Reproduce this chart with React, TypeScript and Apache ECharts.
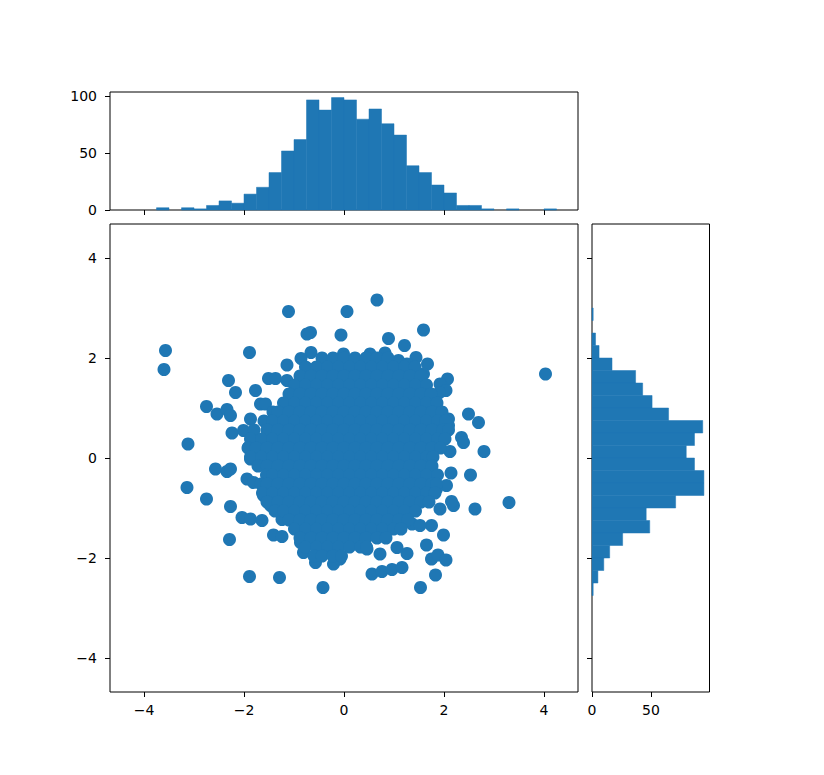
import React, { useEffect, useRef } from "react";
import * as echarts from "echarts";

const BLUE = "#1f77b4";
const FONT = "DejaVu Sans";

const mainTicks = [-4, -2, 0, 2, 4];
const topHistTicks = [0, 50, 100];
const rightHistTicks = [0, 50];

const binWidth = 0.25;
const topBinStarts = [
  -4.25, -4.0, -3.75, -3.5, -3.25, -3.0, -2.75, -2.5, -2.25, -2.0, -1.75, -1.5,
  -1.25, -1.0, -0.75, -0.5, -0.25, 0.0, 0.25, 0.5, 0.75, 1.0, 1.25, 1.5, 1.75,
  2.0, 2.25, 2.5, 2.75, 3.0, 3.25, 3.5, 3.75, 4.0, 4.25,
];
const topCounts = [
  0, 0, 2, 0, 2, 1, 4, 8, 6, 14, 20, 33, 52, 62, 97, 88, 99, 97, 80, 89, 76, 66,
  39, 33, 22, 15, 4, 4, 1, 0, 1, 0, 0, 1, 0,
];
const rightBinStarts = [
  2.75, 2.5, 2.25, 2.0, 1.75, 1.5, 1.25, 1.0, 0.75, 0.5, 0.25, 0.0, -0.25, -0.5,
  -0.75, -1.0, -1.25, -1.5, -1.75, -2.0, -2.25, -2.5, -2.75,
];
const rightCounts = [
  1, 0, 3, 6, 17, 37, 43, 51, 65, 94, 87, 80, 87, 95, 95, 71, 46, 49, 26, 15, 10,
  5, 1,
];

// scattered points read around the edge of the cloud
const outerPoints: number[][] = [
  [-1.11, 2.93], [0.06, 2.93], [0.66, 3.16], [-0.67, 2.51], [-0.74, 2.48],
  [-0.06, 2.46], [1.59, 2.56], [0.89, 2.39], [1.21, 2.25], [-3.57, 2.15],
  [-3.6, 1.77], [-1.89, 2.11], [-0.66, 2.11], [-0.01, 2.08], [0.52, 2.08],
  [0.82, 2.1], [-0.86, 1.99], [-1.14, 1.86], [-0.41, 1.95], [-0.71, 1.78],
  [1.44, 2.01], [1.67, 1.88], [1.59, 1.68], [1.09, 1.95], [1.26, 1.88],
  [0.72, 1.71], [4.03, 1.68], [-2.31, 1.55], [-2.17, 1.31], [-1.77, 1.35],
  [-1.51, 1.59], [-1.37, 1.59], [-1.14, 1.55], [-1.67, 1.08], [-1.57, 1.08],
  [-2.75, 1.03], [-2.54, 0.88], [-2.34, 0.97], [-2.27, 0.85], [-1.87, 0.78],
  [-2.24, 0.5], [-2.01, 0.55], [-3.12, 0.28], [-1.91, 0.21], [2.07, 1.58],
  [1.92, 1.48], [2.04, 1.35], [1.91, 1.31], [1.49, 1.46], [1.62, 1.21],
  [1.59, 1.08], [2.49, 0.88], [2.69, 0.71], [1.85, 0.85], [2.09, 0.78],
  [2.09, 0.65], [2.35, 0.41], [2.39, 0.31], [2.8, 0.13], [2.12, 0.13],
  [-2.57, -0.22], [-2.34, -0.27], [-2.27, -0.22], [-3.14, -0.59], [-2.75, -0.82],
  [-2.27, -0.97], [-1.94, -0.42], [-1.81, -0.49], [-2.04, -1.19], [-1.87, -1.22],
  [-1.64, -1.25], [-2.29, -1.63], [-1.41, -1.54], [-1.24, -1.57], [-1.24, -1.23],
  [-1.89, -2.37], [-1.29, -2.39], [-0.42, -2.59], [-0.81, -1.89], [-0.57, -2.09],
  [-0.21, -2.12], [-0.87, -1.69], [-1.61, -0.75], [-1.47, -0.95], [-1.87, -0.02],
  [2.14, -0.3], [2.53, -0.34], [3.3, -0.89], [2.62, -1.02], [2.19, -0.95],
  [2.15, -0.87], [2.05, -0.55], [1.85, -0.62], [1.92, -1.02], [1.99, -1.54],
  [1.75, -1.35], [1.65, -1.74], [1.26, -1.91], [1.75, -2.02], [1.88, -1.94],
  [2.04, -2.04], [1.83, -2.34], [1.53, -2.59], [0.56, -2.32], [0.76, -2.27],
  [0.96, -2.23], [1.16, -2.19], [0.72, -1.92], [1.06, -1.79], [-0.08, -2.02],
  [0.46, -1.82], [1.36, -1.32], [1.52, -1.35],
];

// dense core of the cloud, row by row: [y, x values]
const blobRows: [number, number[]][] = [
  [2.0, [-0.44, -0.22, 0, 0.22, 0.44, 0.66, 0.88]],
  [1.82, [-0.77, -0.55, -0.33, -0.11, 0.11, 0.33, 0.55, 0.77, 0.99, 1.21, 1.42]],
  [1.64, [-0.88, -0.66, -0.44, -0.22, 0, 0.22, 0.44, 0.66, 0.88, 1.1, 1.32, 1.54]],
  [1.46, [-0.99, -0.77, -0.55, -0.33, -0.11, 0.11, 0.33, 0.55, 0.77, 0.99, 1.21, 1.43, 1.65]],
  [1.28, [-1.1, -0.88, -0.66, -0.44, -0.22, 0, 0.22, 0.44, 0.66, 0.88, 1.1, 1.32, 1.54, 1.74]],
  [1.1, [-1.21, -0.99, -0.77, -0.55, -0.33, -0.11, 0.11, 0.33, 0.55, 0.77, 0.99, 1.21, 1.43, 1.65, 1.86]],
  [0.92, [-1.42, -1.32, -1.1, -0.88, -0.66, -0.44, -0.22, 0, 0.22, 0.44, 0.66, 0.88, 1.1, 1.32, 1.54, 1.76, 1.96]],
  [0.74, [-1.6, -1.43, -1.21, -0.99, -0.77, -0.55, -0.33, -0.11, 0.11, 0.33, 0.55, 0.77, 0.99, 1.21, 1.43, 1.65, 1.87, 2.03]],
  [0.56, [-1.8, -1.54, -1.32, -1.1, -0.88, -0.66, -0.44, -0.22, 0, 0.22, 0.44, 0.66, 0.88, 1.1, 1.32, 1.54, 1.76, 1.98, 2.09]],
  [0.38, [-1.87, -1.65, -1.43, -1.21, -0.99, -0.77, -0.55, -0.33, -0.11, 0.11, 0.33, 0.55, 0.77, 0.99, 1.21, 1.43, 1.65, 1.87, 2.02]],
  [0.2, [-1.92, -1.76, -1.54, -1.32, -1.1, -0.88, -0.66, -0.44, -0.22, 0, 0.22, 0.44, 0.66, 0.88, 1.1, 1.32, 1.54, 1.76, 1.93]],
  [0.02, [-1.87, -1.65, -1.43, -1.21, -0.99, -0.77, -0.55, -0.33, -0.11, 0.11, 0.33, 0.55, 0.77, 0.99, 1.21, 1.43, 1.65, 1.78]],
  [-0.16, [-1.72, -1.54, -1.32, -1.1, -0.88, -0.66, -0.44, -0.22, 0, 0.22, 0.44, 0.66, 0.88, 1.1, 1.32, 1.54, 1.76]],
  [-0.34, [-1.55, -1.43, -1.21, -0.99, -0.77, -0.55, -0.33, -0.11, 0.11, 0.33, 0.55, 0.77, 0.99, 1.21, 1.43, 1.65, 1.87]],
  [-0.52, [-1.66, -1.54, -1.32, -1.1, -0.88, -0.66, -0.44, -0.22, 0, 0.22, 0.44, 0.66, 0.88, 1.1, 1.32, 1.54, 1.76, 1.85]],
  [-0.7, [-1.63, -1.43, -1.21, -0.99, -0.77, -0.55, -0.33, -0.11, 0.11, 0.33, 0.55, 0.77, 0.99, 1.21, 1.43, 1.65, 1.82]],
  [-0.88, [-1.54, -1.32, -1.1, -0.88, -0.66, -0.44, -0.22, 0, 0.22, 0.44, 0.66, 0.88, 1.1, 1.32, 1.54, 1.7]],
  [-1.06, [-1.38, -1.21, -0.99, -0.77, -0.55, -0.33, -0.11, 0.11, 0.33, 0.55, 0.77, 0.99, 1.21, 1.43]],
  [-1.24, [-1.1, -0.88, -0.66, -0.44, -0.22, 0, 0.22, 0.44, 0.66, 0.88, 1.1, 1.28]],
  [-1.42, [-0.99, -0.77, -0.55, -0.33, -0.11, 0.11, 0.33, 0.55, 0.77, 0.99, 1.14]],
  [-1.6, [-0.88, -0.66, -0.44, -0.22, 0, 0.22, 0.44, 0.66, 0.84]],
  [-1.78, [-0.77, -0.55, -0.33, -0.11, 0.11, 0.33, 0.45]],
  [-1.96, [-0.6, -0.44, -0.22, -0.05]],
];

const fmt = (v: number) => String(v).replace("-", "\u2212");

export default function App() {
  const ref = useRef<HTMLDivElement>(null);

  useEffect(() => {
    document.body.style.margin = "0";
    if (!ref.current) return;
    const chart = echarts.init(ref.current, null, { renderer: "svg" });

    const scatterData: number[][] = [...outerPoints];
    blobRows.forEach(([y, xs]) => xs.forEach((x) => scatterData.push([x, y])));

    const topData = topBinStarts.map((s, i) => [s, s + binWidth, topCounts[i]]);
    const rightData = rightBinStarts.map((s, i) => [rightCounts[i], s, s + binWidth]);

    const labelStyle = { color: "#000", fontSize: 14, fontFamily: FONT };
    const tickStyle = { show: true, length: 5, lineStyle: { color: "#000", width: 1 } };
    const noLine = { show: false, onZero: false };
    const barStyle = { fill: BLUE, stroke: BLUE, lineWidth: 0.5 };

    chart.setOption({
      animation: false,
      backgroundColor: "#fff",
      grid: [
        { left: 110, top: 224, width: 468, height: 468, show: true, borderColor: "#000", borderWidth: 1 },
        { left: 110, top: 92, width: 468, height: 118, show: true, borderColor: "#000", borderWidth: 1 },
        { left: 592, top: 224, width: 117.5, height: 468, show: true, borderColor: "#000", borderWidth: 1 },
      ],
      xAxis: [
        {
          gridIndex: 0, type: "value", min: -4.68, max: 4.68,
          axisLine: noLine, splitLine: { show: false },
          axisTick: { ...tickStyle, customValues: mainTicks },
          axisLabel: { ...labelStyle, margin: 11, customValues: mainTicks, formatter: fmt },
        },
        {
          gridIndex: 1, type: "value", min: -4.68, max: 4.68,
          axisLine: noLine, splitLine: { show: false },
          axisTick: { ...tickStyle, customValues: mainTicks },
          axisLabel: { show: false },
        },
        {
          gridIndex: 2, type: "value", min: 0, max: 99.75,
          axisLine: noLine, splitLine: { show: false },
          axisTick: { ...tickStyle, customValues: rightHistTicks },
          axisLabel: { ...labelStyle, margin: 11, customValues: rightHistTicks, formatter: fmt },
        },
      ],
      yAxis: [
        {
          gridIndex: 0, type: "value", min: -4.68, max: 4.68,
          axisLine: noLine, splitLine: { show: false },
          axisTick: { ...tickStyle, customValues: mainTicks },
          axisLabel: { ...labelStyle, margin: 13, customValues: mainTicks, formatter: fmt },
        },
        {
          gridIndex: 1, type: "value", min: 0, max: 103.95,
          axisLine: noLine, splitLine: { show: false },
          axisTick: { ...tickStyle, customValues: topHistTicks },
          axisLabel: { ...labelStyle, margin: 13, customValues: topHistTicks, formatter: fmt },
        },
        {
          gridIndex: 2, type: "value", min: -4.68, max: 4.68,
          axisLine: noLine, splitLine: { show: false },
          axisTick: { ...tickStyle, customValues: mainTicks },
          axisLabel: { show: false },
        },
      ],
      series: [
        {
          type: "scatter",
          xAxisIndex: 0,
          yAxisIndex: 0,
          data: scatterData,
          symbolSize: 13,
          itemStyle: { color: BLUE, opacity: 1 },
          emphasis: { disabled: true },
        },
        {
          type: "custom",
          xAxisIndex: 1,
          yAxisIndex: 1,
          data: topData,
          encode: { x: [0, 1], y: 2 },
          renderItem: (params: any, api: any) => {
            const c = api.value(2);
            if (!c) return null;
            const p0 = api.coord([api.value(0), 0]);
            const p1 = api.coord([api.value(1), c]);
            return {
              type: "rect",
              shape: { x: p0[0], y: p1[1], width: p1[0] - p0[0], height: p0[1] - p1[1] },
              style: barStyle,
            };
          },
        },
        {
          type: "custom",
          xAxisIndex: 2,
          yAxisIndex: 2,
          data: rightData,
          encode: { x: 0, y: [1, 2] },
          renderItem: (params: any, api: any) => {
            const c = api.value(0);
            if (!c) return null;
            const p0 = api.coord([0, api.value(1)]);
            const p1 = api.coord([c, api.value(2)]);
            return {
              type: "rect",
              shape: { x: p0[0], y: p1[1], width: p1[0] - p0[0], height: p0[1] - p1[1] },
              style: barStyle,
            };
          },
        },
      ],
    });

    return () => chart.dispose();
  }, []);

  return (
    <div
      ref={ref}
      style={{ position: "absolute", left: 0, top: 0, width: 824, height: 775 }}
    />
  );
}
